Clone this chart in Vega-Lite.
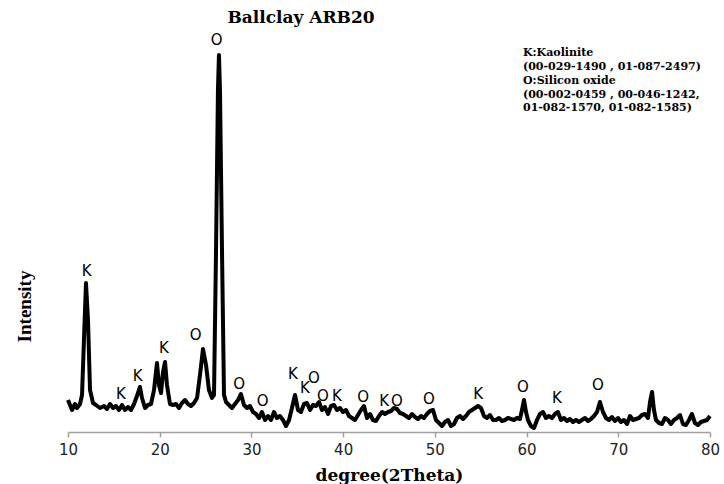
{
  "$schema": "https://vega.github.io/schema/vega-lite/v6.json",
  "width": 642,
  "height": 392,
  "autosize": {"type": "none"},
  "padding": {"left": 68, "top": 40, "right": 14, "bottom": 52},
  "background": "white",
  "config": {"view": {"stroke": null}},
  "title": {"text": "Ballclay ARB20", "font": "DejaVu Serif", "fontWeight": "bold", "fontSize": 17, "color": "#000", "anchor": "middle", "dx": -88, "offset": 6},
  "datasets": {
    "xrd": [
      {"theta":10.00,"intensity":32},{"theta":10.22,"intensity":27},{"theta":10.44,"intensity":22},{"theta":10.76,"intensity":28},{"theta":10.98,"intensity":24},{"theta":11.31,"intensity":28},{"theta":11.53,"intensity":37},{"theta":11.74,"intensity":92},{"theta":11.96,"intensity":149},{"theta":12.18,"intensity":112},{"theta":12.40,"intensity":42},{"theta":12.73,"intensity":29},{"theta":13.05,"intensity":27},{"theta":13.49,"intensity":24},{"theta":13.93,"intensity":26},{"theta":14.25,"intensity":23},{"theta":14.58,"intensity":28},{"theta":14.91,"intensity":24},{"theta":15.23,"intensity":26},{"theta":15.56,"intensity":22},{"theta":15.89,"intensity":27},{"theta":16.21,"intensity":22},{"theta":16.54,"intensity":25},{"theta":16.87,"intensity":22},{"theta":17.20,"intensity":28},{"theta":17.52,"intensity":36},{"theta":17.85,"intensity":45},{"theta":18.07,"intensity":34},{"theta":18.40,"intensity":24},{"theta":18.72,"intensity":27},{"theta":19.05,"intensity":28},{"theta":19.38,"intensity":42},{"theta":19.70,"intensity":69},{"theta":19.92,"intensity":47},{"theta":20.14,"intensity":39},{"theta":20.36,"intensity":60},{"theta":20.58,"intensity":70},{"theta":20.79,"intensity":47},{"theta":21.12,"intensity":28},{"theta":21.45,"intensity":27},{"theta":21.78,"intensity":28},{"theta":22.10,"intensity":24},{"theta":22.43,"intensity":29},{"theta":22.76,"intensity":32},{"theta":23.08,"intensity":28},{"theta":23.41,"intensity":26},{"theta":23.74,"intensity":29},{"theta":24.07,"intensity":34},{"theta":24.39,"intensity":57},{"theta":24.72,"intensity":83},{"theta":25.05,"intensity":67},{"theta":25.37,"intensity":42},{"theta":25.70,"intensity":34},{"theta":25.92,"intensity":37},{"theta":26.14,"intensity":182},{"theta":26.35,"intensity":342},{"theta":26.46,"intensity":377},{"theta":26.57,"intensity":342},{"theta":26.79,"intensity":182},{"theta":27.01,"intensity":37},{"theta":27.23,"intensity":30},{"theta":27.55,"intensity":27},{"theta":27.88,"intensity":24},{"theta":28.21,"intensity":28},{"theta":28.54,"intensity":32},{"theta":28.86,"intensity":38},{"theta":29.19,"intensity":27},{"theta":29.52,"intensity":24},{"theta":29.84,"intensity":26},{"theta":30.17,"intensity":20},{"theta":30.50,"intensity":18},{"theta":30.83,"intensity":14},{"theta":31.15,"intensity":20},{"theta":31.48,"intensity":12},{"theta":31.81,"intensity":16},{"theta":32.13,"intensity":12},{"theta":32.46,"intensity":20},{"theta":32.79,"intensity":14},{"theta":33.11,"intensity":16},{"theta":33.44,"intensity":12},{"theta":33.77,"intensity":6},{"theta":34.10,"intensity":12},{"theta":34.42,"intensity":24},{"theta":34.75,"intensity":37},{"theta":35.08,"intensity":22},{"theta":35.40,"intensity":20},{"theta":35.73,"intensity":28},{"theta":36.06,"intensity":29},{"theta":36.39,"intensity":22},{"theta":36.71,"intensity":27},{"theta":37.04,"intensity":26},{"theta":37.37,"intensity":30},{"theta":37.69,"intensity":22},{"theta":38.02,"intensity":25},{"theta":38.35,"intensity":18},{"theta":38.68,"intensity":26},{"theta":39.00,"intensity":27},{"theta":39.33,"intensity":22},{"theta":39.66,"intensity":24},{"theta":39.98,"intensity":20},{"theta":40.31,"intensity":22},{"theta":40.64,"intensity":16},{"theta":40.96,"intensity":14},{"theta":41.29,"intensity":12},{"theta":41.62,"intensity":17},{"theta":41.95,"intensity":22},{"theta":42.27,"intensity":26},{"theta":42.60,"intensity":14},{"theta":42.93,"intensity":18},{"theta":43.25,"intensity":12},{"theta":43.58,"intensity":11},{"theta":43.91,"intensity":16},{"theta":44.24,"intensity":20},{"theta":44.56,"intensity":18},{"theta":44.89,"intensity":20},{"theta":45.22,"intensity":21},{"theta":45.54,"intensity":24},{"theta":45.87,"intensity":23},{"theta":46.20,"intensity":19},{"theta":46.53,"intensity":18},{"theta":46.85,"intensity":16},{"theta":47.18,"intensity":14},{"theta":47.51,"intensity":18},{"theta":47.83,"intensity":15},{"theta":48.16,"intensity":13},{"theta":48.49,"intensity":16},{"theta":48.81,"intensity":14},{"theta":49.14,"intensity":18},{"theta":49.47,"intensity":21},{"theta":49.80,"intensity":22},{"theta":50.12,"intensity":12},{"theta":50.45,"intensity":9},{"theta":50.78,"intensity":6},{"theta":51.10,"intensity":10},{"theta":51.43,"intensity":12},{"theta":51.76,"intensity":6},{"theta":52.09,"intensity":8},{"theta":52.41,"intensity":14},{"theta":52.74,"intensity":16},{"theta":53.07,"intensity":13},{"theta":53.39,"intensity":16},{"theta":53.72,"intensity":20},{"theta":54.05,"intensity":22},{"theta":54.38,"intensity":24},{"theta":54.70,"intensity":26},{"theta":55.03,"intensity":24},{"theta":55.36,"intensity":16},{"theta":55.68,"intensity":14},{"theta":56.01,"intensity":17},{"theta":56.34,"intensity":12},{"theta":56.67,"intensity":12},{"theta":56.99,"intensity":14},{"theta":57.32,"intensity":11},{"theta":57.65,"intensity":12},{"theta":57.97,"intensity":14},{"theta":58.30,"intensity":13},{"theta":58.63,"intensity":12},{"theta":58.95,"intensity":14},{"theta":59.28,"intensity":13},{"theta":59.50,"intensity":22},{"theta":59.72,"intensity":32},{"theta":59.94,"intensity":20},{"theta":60.15,"intensity":12},{"theta":60.48,"intensity":6},{"theta":60.81,"intensity":4},{"theta":61.14,"intensity":12},{"theta":61.46,"intensity":18},{"theta":61.79,"intensity":20},{"theta":62.12,"intensity":14},{"theta":62.44,"intensity":16},{"theta":62.77,"intensity":14},{"theta":63.10,"intensity":18},{"theta":63.42,"intensity":20},{"theta":63.75,"intensity":12},{"theta":64.08,"intensity":14},{"theta":64.41,"intensity":11},{"theta":64.73,"intensity":13},{"theta":65.06,"intensity":10},{"theta":65.39,"intensity":12},{"theta":65.71,"intensity":10},{"theta":66.04,"intensity":12},{"theta":66.37,"intensity":14},{"theta":66.70,"intensity":11},{"theta":67.02,"intensity":13},{"theta":67.35,"intensity":16},{"theta":67.68,"intensity":20},{"theta":68.00,"intensity":30},{"theta":68.33,"intensity":20},{"theta":68.66,"intensity":14},{"theta":68.99,"intensity":12},{"theta":69.31,"intensity":15},{"theta":69.64,"intensity":11},{"theta":69.97,"intensity":14},{"theta":70.29,"intensity":10},{"theta":70.62,"intensity":12},{"theta":70.95,"intensity":8},{"theta":71.28,"intensity":16},{"theta":71.60,"intensity":12},{"theta":71.93,"intensity":13},{"theta":72.26,"intensity":14},{"theta":72.58,"intensity":17},{"theta":72.91,"intensity":18},{"theta":73.24,"intensity":14},{"theta":73.46,"intensity":30},{"theta":73.68,"intensity":40},{"theta":73.89,"intensity":22},{"theta":74.11,"intensity":12},{"theta":74.44,"intensity":9},{"theta":74.76,"intensity":8},{"theta":75.09,"intensity":14},{"theta":75.42,"intensity":12},{"theta":75.74,"intensity":8},{"theta":76.07,"intensity":12},{"theta":76.40,"intensity":14},{"theta":76.73,"intensity":17},{"theta":77.05,"intensity":8},{"theta":77.38,"intensity":7},{"theta":77.71,"intensity":12},{"theta":78.03,"intensity":18},{"theta":78.36,"intensity":9},{"theta":78.69,"intensity":7},{"theta":79.01,"intensity":10},{"theta":79.34,"intensity":11},{"theta":79.67,"intensity":12},{"theta":80.00,"intensity":16}
    ],
    "peaks": [
      {"theta":12.04,"intensity":161,"phase":"K"},
      {"theta":15.78,"intensity":38,"phase":"K"},
      {"theta":17.60,"intensity":56,"phase":"K"},
      {"theta":20.47,"intensity":84,"phase":"K"},
      {"theta":23.92,"intensity":97,"phase":"O"},
      {"theta":26.21,"intensity":392,"phase":"O"},
      {"theta":28.65,"intensity":48,"phase":"O"},
      {"theta":31.23,"intensity":31,"phase":"O"},
      {"theta":34.53,"intensity":58,"phase":"K"},
      {"theta":35.84,"intensity":44,"phase":"K"},
      {"theta":36.82,"intensity":54,"phase":"O"},
      {"theta":37.80,"intensity":36,"phase":"O"},
      {"theta":39.33,"intensity":36,"phase":"K"},
      {"theta":42.17,"intensity":35,"phase":"O"},
      {"theta":44.46,"intensity":31,"phase":"K"},
      {"theta":45.87,"intensity":31,"phase":"O"},
      {"theta":49.36,"intensity":33,"phase":"O"},
      {"theta":54.71,"intensity":38,"phase":"K"},
      {"theta":59.61,"intensity":45,"phase":"O"},
      {"theta":63.32,"intensity":34,"phase":"K"},
      {"theta":67.79,"intensity":47,"phase":"O"}
    ],
    "notes": [
      {"theta":59.61,"intensity":379,"note":"K:Kaolinite"},
      {"theta":59.61,"intensity":365,"note":"(00-029-1490 , 01-087-2497)"},
      {"theta":59.61,"intensity":351,"note":"O:Silicon oxide"},
      {"theta":59.61,"intensity":337,"note":"(00-002-0459 , 00-046-1242,"},
      {"theta":59.61,"intensity":324,"note":"01-082-1570, 01-082-1585)"}
    ]
  },
  "encoding": {
    "x": {"field": "theta", "type": "quantitative",
      "scale": {"domain": [10, 80], "nice": false, "zero": false},
      "axis": {"title": "degree(2Theta)", "values": [10,20,30,40,50,60,70,80], "grid": false,
        "domainColor": "#a0a0a0", "domainWidth": 1.5, "tickColor": "#a0a0a0", "tickWidth": 1.5, "tickSize": 5,
        "labelFont": "DejaVu Sans", "labelFontSize": 15, "labelColor": "#222", "labelPadding": 5, "labelFlush": false,
        "titleFont": "DejaVu Serif", "titleFontWeight": "bold", "titleFontSize": 17, "titleColor": "#000",
        "titleY": 48, "titleBaseline": "alphabetic"}},
    "y": {"field": "intensity", "type": "quantitative",
      "scale": {"domain": [0, 392], "nice": false},
      "axis": {"title": "Intensity", "domain": false, "ticks": false, "labels": false, "grid": false,
        "titleFont": "Liberation Serif", "titleFontWeight": "bold", "titleFontSize": 19, "titleColor": "#000",
        "titleAngle": 270, "titleX": -44, "titleY": 266, "titleAlign": "center", "titleBaseline": "middle"}}
  },
  "layer": [
    {"data": {"name": "xrd"}, "mark": {"type": "line", "color": "#000", "strokeWidth": 4, "strokeJoin": "round"}},
    {"data": {"name": "peaks"}, "mark": {"type": "text", "font": "DejaVu Sans", "fontSize": 15, "color": "#000", "align": "center", "baseline": "middle"},
      "encoding": {"text": {"field": "phase"}}},
    {"data": {"name": "notes"}, "mark": {"type": "text", "font": "DejaVu Serif", "fontWeight": "bold", "fontSize": 11, "color": "#000", "align": "left", "baseline": "middle"},
      "encoding": {"text": {"field": "note"}}}
  ]
}
